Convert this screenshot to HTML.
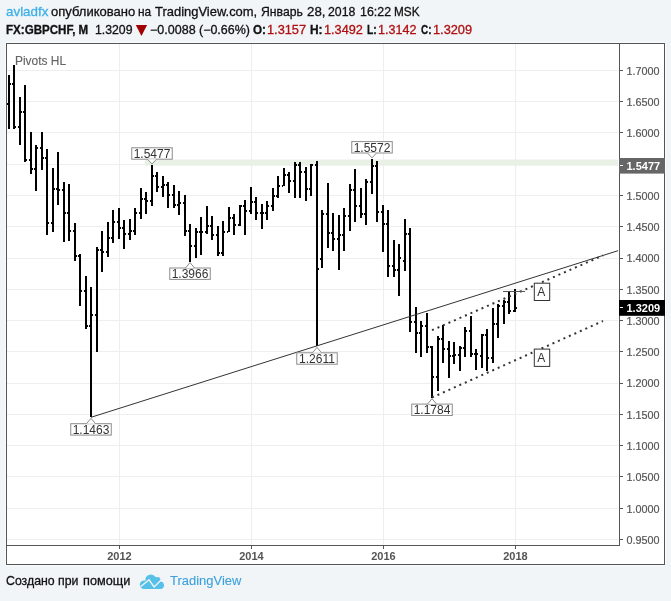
<!DOCTYPE html><html><head><meta charset="utf-8"><title>GBPCHF</title><style>
html,body{margin:0;padding:0}body{width:671px;height:601px;background:#f1f5f8;position:relative;overflow:hidden;font-family:"Liberation Sans",Arial,sans-serif;color:#111}
.t{position:absolute;white-space:nowrap;display:block;transform-origin:0 0;line-height:normal}.t{-webkit-text-stroke:0.3px currentColor}.g{color:#666;-webkit-text-stroke:0.15px currentColor}.l2{color:#3ba0dc;-webkit-text-stroke:0.1px currentColor}
.b{font-weight:bold}.r{color:#b01010}.l{color:#3db0e8}
</style></head><body>
<svg width="671" height="601" viewBox="0 0 671 601" style="position:absolute;left:0;top:0">
<rect x="5" y="42" width="661" height="524" fill="#fbfcfd"/>
<rect x="6" y="43" width="659" height="522" fill="#fff"/>
<g fill="#eeeeee" shape-rendering="crispEdges"><rect x="7" y="70" width="611" height="1"/><rect x="7" y="101" width="611" height="1"/><rect x="7" y="132" width="611" height="1"/><rect x="7" y="164" width="611" height="1"/><rect x="7" y="195" width="611" height="1"/><rect x="7" y="226" width="611" height="1"/><rect x="7" y="258" width="611" height="1"/><rect x="7" y="289" width="611" height="1"/><rect x="7" y="320" width="611" height="1"/><rect x="7" y="351" width="611" height="1"/><rect x="7" y="383" width="611" height="1"/><rect x="7" y="414" width="611" height="1"/><rect x="7" y="445" width="611" height="1"/><rect x="7" y="476" width="611" height="1"/><rect x="7" y="508" width="611" height="1"/><rect x="7" y="539" width="611" height="1"/><rect x="119" y="44" width="1" height="501"/><rect x="251" y="44" width="1" height="501"/><rect x="383" y="44" width="1" height="501"/><rect x="515" y="44" width="1" height="501"/></g>
<rect x="145" y="159.5" width="473" height="6.2" fill="#e9f0e6"/>
<g fill="#000"><rect x="8" y="75" width="2" height="54"/><rect x="7" y="103" width="1" height="2"/><rect x="10" y="83" width="1" height="2"/><rect x="13" y="65" width="2" height="64"/><rect x="12" y="83" width="1" height="2"/><rect x="15" y="126" width="1" height="2"/><rect x="19" y="97" width="2" height="48"/><rect x="18" y="126" width="1" height="2"/><rect x="21" y="111" width="1" height="2"/><rect x="24" y="85" width="2" height="77"/><rect x="23" y="111" width="1" height="2"/><rect x="26" y="159" width="1" height="2"/><rect x="30" y="132" width="2" height="42"/><rect x="29" y="159" width="1" height="2"/><rect x="32" y="168" width="1" height="2"/><rect x="35" y="145" width="2" height="46"/><rect x="34" y="168" width="1" height="2"/><rect x="37" y="147" width="1" height="2"/><rect x="41" y="132" width="2" height="38"/><rect x="40" y="147" width="1" height="2"/><rect x="43" y="157" width="1" height="2"/><rect x="46" y="149" width="2" height="86"/><rect x="45" y="157" width="1" height="2"/><rect x="48" y="222" width="1" height="2"/><rect x="52" y="168" width="2" height="64"/><rect x="51" y="222" width="1" height="2"/><rect x="54" y="188" width="1" height="2"/><rect x="57" y="152" width="2" height="53"/><rect x="56" y="188" width="1" height="2"/><rect x="59" y="189" width="1" height="2"/><rect x="63" y="182" width="2" height="60"/><rect x="62" y="189" width="1" height="2"/><rect x="65" y="212" width="1" height="2"/><rect x="68" y="184" width="2" height="57"/><rect x="67" y="212" width="1" height="2"/><rect x="70" y="230" width="1" height="2"/><rect x="74" y="223" width="2" height="38"/><rect x="73" y="230" width="1" height="2"/><rect x="76" y="255" width="1" height="2"/><rect x="79" y="254" width="2" height="52"/><rect x="78" y="255" width="1" height="2"/><rect x="81" y="290" width="1" height="2"/><rect x="85" y="276" width="2" height="53"/><rect x="84" y="290" width="1" height="2"/><rect x="87" y="325" width="1" height="2"/><rect x="90" y="287" width="2" height="130"/><rect x="89" y="325" width="1" height="2"/><rect x="92" y="314" width="1" height="2"/><rect x="96" y="247" width="2" height="105"/><rect x="95" y="314" width="1" height="2"/><rect x="98" y="249" width="1" height="2"/><rect x="101" y="231" width="2" height="41"/><rect x="100" y="249" width="1" height="2"/><rect x="103" y="251" width="1" height="2"/><rect x="107" y="222" width="2" height="35"/><rect x="106" y="251" width="1" height="2"/><rect x="109" y="237" width="1" height="2"/><rect x="112" y="210" width="2" height="33"/><rect x="111" y="237" width="1" height="2"/><rect x="114" y="221" width="1" height="2"/><rect x="118" y="208" width="2" height="31"/><rect x="117" y="221" width="1" height="2"/><rect x="120" y="227" width="1" height="2"/><rect x="123" y="220" width="2" height="29"/><rect x="122" y="227" width="1" height="2"/><rect x="125" y="233" width="1" height="2"/><rect x="129" y="219" width="2" height="21"/><rect x="128" y="233" width="1" height="2"/><rect x="131" y="230" width="1" height="2"/><rect x="134" y="208" width="2" height="27"/><rect x="133" y="230" width="1" height="2"/><rect x="136" y="212" width="1" height="2"/><rect x="140" y="188" width="2" height="31"/><rect x="139" y="212" width="1" height="2"/><rect x="142" y="198" width="1" height="2"/><rect x="145" y="192" width="2" height="22"/><rect x="144" y="198" width="1" height="2"/><rect x="147" y="200" width="1" height="2"/><rect x="151" y="165" width="2" height="41"/><rect x="150" y="200" width="1" height="2"/><rect x="153" y="175" width="1" height="2"/><rect x="156" y="172" width="2" height="20"/><rect x="155" y="175" width="1" height="2"/><rect x="158" y="186" width="1" height="2"/><rect x="162" y="176" width="2" height="21"/><rect x="161" y="186" width="1" height="2"/><rect x="164" y="184" width="1" height="2"/><rect x="167" y="182" width="2" height="26"/><rect x="166" y="184" width="1" height="2"/><rect x="169" y="194" width="1" height="2"/><rect x="173" y="185" width="2" height="23"/><rect x="172" y="194" width="1" height="2"/><rect x="175" y="204" width="1" height="2"/><rect x="178" y="191" width="2" height="24"/><rect x="177" y="204" width="1" height="2"/><rect x="180" y="202" width="1" height="2"/><rect x="184" y="195" width="2" height="41"/><rect x="183" y="202" width="1" height="2"/><rect x="186" y="230" width="1" height="2"/><rect x="189" y="224" width="2" height="38"/><rect x="188" y="230" width="1" height="2"/><rect x="191" y="245" width="1" height="2"/><rect x="195" y="228" width="2" height="30"/><rect x="194" y="245" width="1" height="2"/><rect x="197" y="231" width="1" height="2"/><rect x="200" y="217" width="2" height="38"/><rect x="199" y="231" width="1" height="2"/><rect x="202" y="231" width="1" height="2"/><rect x="206" y="206" width="2" height="28"/><rect x="205" y="231" width="1" height="2"/><rect x="208" y="225" width="1" height="2"/><rect x="211" y="216" width="2" height="24"/><rect x="210" y="225" width="1" height="2"/><rect x="213" y="234" width="1" height="2"/><rect x="217" y="226" width="2" height="30"/><rect x="216" y="234" width="1" height="2"/><rect x="219" y="252" width="1" height="2"/><rect x="222" y="221" width="2" height="35"/><rect x="221" y="252" width="1" height="2"/><rect x="224" y="231" width="1" height="2"/><rect x="228" y="207" width="2" height="25"/><rect x="227" y="231" width="1" height="2"/><rect x="230" y="217" width="1" height="2"/><rect x="233" y="214" width="2" height="21"/><rect x="232" y="217" width="1" height="2"/><rect x="235" y="224" width="1" height="2"/><rect x="239" y="205" width="2" height="21"/><rect x="238" y="224" width="1" height="2"/><rect x="241" y="205" width="1" height="2"/><rect x="244" y="200" width="2" height="35"/><rect x="243" y="205" width="1" height="2"/><rect x="246" y="210" width="1" height="2"/><rect x="250" y="187" width="2" height="27"/><rect x="249" y="210" width="1" height="2"/><rect x="252" y="201" width="1" height="2"/><rect x="255" y="197" width="2" height="23"/><rect x="254" y="201" width="1" height="2"/><rect x="257" y="212" width="1" height="2"/><rect x="261" y="204" width="2" height="25"/><rect x="260" y="212" width="1" height="2"/><rect x="263" y="212" width="1" height="2"/><rect x="266" y="201" width="2" height="19"/><rect x="265" y="212" width="1" height="2"/><rect x="268" y="205" width="1" height="2"/><rect x="272" y="188" width="2" height="23"/><rect x="271" y="205" width="1" height="2"/><rect x="274" y="195" width="1" height="2"/><rect x="277" y="176" width="2" height="22"/><rect x="276" y="195" width="1" height="2"/><rect x="279" y="185" width="1" height="2"/><rect x="283" y="168" width="2" height="18"/><rect x="282" y="185" width="1" height="2"/><rect x="285" y="174" width="1" height="2"/><rect x="288" y="172" width="2" height="21"/><rect x="287" y="174" width="1" height="2"/><rect x="290" y="180" width="1" height="2"/><rect x="294" y="162" width="2" height="36"/><rect x="293" y="180" width="1" height="2"/><rect x="296" y="164" width="1" height="2"/><rect x="299" y="162" width="2" height="36"/><rect x="298" y="164" width="1" height="2"/><rect x="301" y="171" width="1" height="2"/><rect x="305" y="167" width="2" height="34"/><rect x="304" y="171" width="1" height="2"/><rect x="307" y="188" width="1" height="2"/><rect x="310" y="164" width="2" height="32"/><rect x="309" y="188" width="1" height="2"/><rect x="312" y="164" width="1" height="2"/><rect x="316" y="161" width="2" height="185"/><rect x="315" y="164" width="1" height="2"/><rect x="318" y="268" width="1" height="2"/><rect x="321" y="210" width="2" height="58"/><rect x="320" y="258" width="1" height="2"/><rect x="323" y="213" width="1" height="2"/><rect x="327" y="183" width="2" height="65"/><rect x="326" y="213" width="1" height="2"/><rect x="329" y="232" width="1" height="2"/><rect x="332" y="213" width="2" height="38"/><rect x="331" y="232" width="1" height="2"/><rect x="334" y="238" width="1" height="2"/><rect x="338" y="215" width="2" height="55"/><rect x="337" y="238" width="1" height="2"/><rect x="340" y="234" width="1" height="2"/><rect x="343" y="208" width="2" height="43"/><rect x="342" y="234" width="1" height="2"/><rect x="345" y="215" width="1" height="2"/><rect x="349" y="184" width="2" height="47"/><rect x="348" y="215" width="1" height="2"/><rect x="351" y="189" width="1" height="2"/><rect x="354" y="169" width="2" height="53"/><rect x="353" y="189" width="1" height="2"/><rect x="356" y="205" width="1" height="2"/><rect x="360" y="188" width="2" height="30"/><rect x="359" y="205" width="1" height="2"/><rect x="362" y="213" width="1" height="2"/><rect x="365" y="179" width="2" height="46"/><rect x="364" y="213" width="1" height="2"/><rect x="367" y="181" width="1" height="2"/><rect x="371" y="159" width="2" height="35"/><rect x="370" y="181" width="1" height="2"/><rect x="373" y="165" width="1" height="2"/><rect x="376" y="161" width="2" height="61"/><rect x="375" y="165" width="1" height="2"/><rect x="378" y="211" width="1" height="2"/><rect x="382" y="205" width="2" height="47"/><rect x="381" y="211" width="1" height="2"/><rect x="384" y="223" width="1" height="2"/><rect x="387" y="210" width="2" height="67"/><rect x="386" y="223" width="1" height="2"/><rect x="389" y="265" width="1" height="2"/><rect x="393" y="240" width="2" height="37"/><rect x="392" y="265" width="1" height="2"/><rect x="395" y="269" width="1" height="2"/><rect x="398" y="244" width="2" height="52"/><rect x="397" y="269" width="1" height="2"/><rect x="400" y="257" width="1" height="2"/><rect x="404" y="219" width="2" height="52"/><rect x="403" y="260" width="1" height="2"/><rect x="406" y="233" width="1" height="2"/><rect x="409" y="228" width="2" height="104"/><rect x="408" y="233" width="1" height="2"/><rect x="411" y="321" width="1" height="2"/><rect x="415" y="307" width="2" height="46"/><rect x="414" y="321" width="1" height="2"/><rect x="417" y="332" width="1" height="2"/><rect x="420" y="321" width="2" height="36"/><rect x="419" y="332" width="1" height="2"/><rect x="422" y="325" width="1" height="2"/><rect x="426" y="313" width="2" height="40"/><rect x="425" y="325" width="1" height="2"/><rect x="428" y="346" width="1" height="2"/><rect x="431" y="346" width="2" height="52"/><rect x="430" y="346" width="1" height="2"/><rect x="433" y="376" width="1" height="2"/><rect x="437" y="336" width="2" height="55"/><rect x="436" y="376" width="1" height="2"/><rect x="439" y="338" width="1" height="2"/><rect x="442" y="325" width="2" height="38"/><rect x="441" y="338" width="1" height="2"/><rect x="444" y="348" width="1" height="2"/><rect x="448" y="341" width="2" height="37"/><rect x="447" y="348" width="1" height="2"/><rect x="450" y="355" width="1" height="2"/><rect x="453" y="342" width="2" height="22"/><rect x="452" y="355" width="1" height="2"/><rect x="455" y="354" width="1" height="2"/><rect x="459" y="346" width="2" height="25"/><rect x="458" y="354" width="1" height="2"/><rect x="461" y="347" width="1" height="2"/><rect x="464" y="327" width="2" height="30"/><rect x="463" y="347" width="1" height="2"/><rect x="466" y="330" width="1" height="2"/><rect x="470" y="316" width="2" height="41"/><rect x="469" y="330" width="1" height="2"/><rect x="472" y="353" width="1" height="2"/><rect x="475" y="349" width="2" height="21"/><rect x="474" y="353" width="1" height="2"/><rect x="477" y="353" width="1" height="2"/><rect x="481" y="334" width="2" height="34"/><rect x="480" y="355" width="1" height="2"/><rect x="483" y="334" width="1" height="2"/><rect x="486" y="329" width="2" height="42"/><rect x="485" y="334" width="1" height="2"/><rect x="488" y="357" width="1" height="2"/><rect x="492" y="308" width="2" height="55"/><rect x="491" y="357" width="1" height="2"/><rect x="494" y="323" width="1" height="2"/><rect x="497" y="304" width="2" height="34"/><rect x="496" y="323" width="1" height="2"/><rect x="499" y="305" width="1" height="2"/><rect x="503" y="300" width="2" height="24"/><rect x="502" y="305" width="1" height="2"/><rect x="505" y="301" width="1" height="2"/><rect x="508" y="291" width="2" height="23"/><rect x="507" y="301" width="1" height="2"/><rect x="510" y="310" width="1" height="2"/><rect x="514" y="289" width="2" height="23"/><rect x="513" y="310" width="1" height="2"/><rect x="516" y="307" width="1" height="2"/></g>
<line x1="91" y1="417.3" x2="618" y2="250.7" stroke="#333" stroke-width="1"/>
<line x1="432" y1="330.2" x2="603" y2="255.5" stroke="#333" stroke-width="2" stroke-dasharray="2 4"/>
<line x1="432" y1="397.5" x2="603" y2="321.0" stroke="#333" stroke-width="2" stroke-dasharray="2 4"/>
<rect x="503" y="291" width="22" height="1" fill="#555" shape-rendering="crispEdges"/>
<g font-family="'Liberation Sans', Arial, sans-serif">
<rect x="70.75" y="423.7" width="40.5" height="11.4" fill="#fff" stroke="#8c8c8c" stroke-width="1"/><polygon points="86.5,423.7 91,418.3 95.5,423.7" fill="#fff" stroke="none"/><polyline points="86.5,423.7 91,418.3 95.5,423.7" fill="none" stroke="#8c8c8c" stroke-width="1"/><text x="91" y="433.6" font-size="12" text-anchor="middle" fill="#333">1.1463</text>
<rect x="131.75" y="147.8" width="40.5" height="11.4" fill="#fff" stroke="#8c8c8c" stroke-width="1"/><polygon points="147.5,159.2 152,164.1 156.5,159.2" fill="#fff" stroke="none"/><polyline points="147.5,159.2 152,164.1 156.5,159.2" fill="none" stroke="#8c8c8c" stroke-width="1"/><text x="152" y="157.7" font-size="12" text-anchor="middle" fill="#333">1.5477</text>
<rect x="169.75" y="268.0" width="40.5" height="11.4" fill="#fff" stroke="#8c8c8c" stroke-width="1"/><polygon points="185.5,268.0 190,262.6 194.5,268.0" fill="#fff" stroke="none"/><polyline points="185.5,268.0 190,262.6 194.5,268.0" fill="none" stroke="#8c8c8c" stroke-width="1"/><text x="190" y="277.9" font-size="12" text-anchor="middle" fill="#333">1.3966</text>
<rect x="296.75" y="352.8" width="40.5" height="11.4" fill="#fff" stroke="#8c8c8c" stroke-width="1"/><polygon points="312.5,352.79999999999995 317,347.4 321.5,352.79999999999995" fill="#fff" stroke="none"/><polyline points="312.5,352.79999999999995 317,347.4 321.5,352.79999999999995" fill="none" stroke="#8c8c8c" stroke-width="1"/><text x="317" y="362.7" font-size="12" text-anchor="middle" fill="#333">1.2611</text>
<rect x="351.75" y="141.6" width="40.5" height="11.4" fill="#fff" stroke="#8c8c8c" stroke-width="1"/><polygon points="367.5,153.0 372,157.9 376.5,153.0" fill="#fff" stroke="none"/><polyline points="367.5,153.0 372,157.9 376.5,153.0" fill="none" stroke="#8c8c8c" stroke-width="1"/><text x="372" y="151.5" font-size="12" text-anchor="middle" fill="#333">1.5572</text>
<rect x="411.75" y="404.1" width="40.5" height="11.4" fill="#fff" stroke="#8c8c8c" stroke-width="1"/><polygon points="427.5,404.09999999999997 432,398.7 436.5,404.09999999999997" fill="#fff" stroke="none"/><polyline points="427.5,404.09999999999997 432,398.7 436.5,404.09999999999997" fill="none" stroke="#8c8c8c" stroke-width="1"/><text x="432" y="414.0" font-size="12" text-anchor="middle" fill="#333">1.1784</text>
<rect x="534.3" y="283.2" width="15.4" height="17.3" fill="#fff" stroke="#333" stroke-width="1"/>
<text x="541.2" y="296.4" font-size="12" text-anchor="middle" fill="#333">A</text>
<rect x="534.3" y="349.1" width="15.4" height="17.3" fill="#fff" stroke="#333" stroke-width="1"/>
<text x="541.2" y="362.3" font-size="12" text-anchor="middle" fill="#333">A</text>
<g fill="#555" shape-rendering="crispEdges">
<rect x="6" y="43" width="659" height="1"/><rect x="6" y="564" width="659" height="1"/>
<rect x="6" y="43" width="1" height="522"/><rect x="664" y="43" width="1" height="522"/>
<rect x="619" y="43" width="1" height="503"/><rect x="6" y="545" width="614" height="1"/>
<rect x="620" y="70" width="3" height="1"/>
<rect x="620" y="101" width="3" height="1"/>
<rect x="620" y="132" width="3" height="1"/>
<rect x="620" y="164" width="3" height="1"/>
<rect x="620" y="195" width="3" height="1"/>
<rect x="620" y="226" width="3" height="1"/>
<rect x="620" y="258" width="3" height="1"/>
<rect x="620" y="289" width="3" height="1"/>
<rect x="620" y="320" width="3" height="1"/>
<rect x="620" y="351" width="3" height="1"/>
<rect x="620" y="383" width="3" height="1"/>
<rect x="620" y="414" width="3" height="1"/>
<rect x="620" y="445" width="3" height="1"/>
<rect x="620" y="476" width="3" height="1"/>
<rect x="620" y="508" width="3" height="1"/>
<rect x="620" y="539" width="3" height="1"/>
<rect x="119" y="546" width="1" height="3"/>
<rect x="251" y="546" width="1" height="3"/>
<rect x="383" y="546" width="1" height="3"/>
<rect x="515" y="546" width="1" height="3"/>
</g>
<text x="626.5" y="74.7" font-size="10.8" fill="#555" stroke="#555" stroke-width="0.2">1.7000</text>
<text x="626.5" y="106.0" font-size="10.8" fill="#555" stroke="#555" stroke-width="0.2">1.6500</text>
<text x="626.5" y="137.2" font-size="10.8" fill="#555" stroke="#555" stroke-width="0.2">1.6000</text>
<text x="626.5" y="168.5" font-size="10.8" fill="#555" stroke="#555" stroke-width="0.2">1.5500</text>
<text x="626.5" y="199.8" font-size="10.8" fill="#555" stroke="#555" stroke-width="0.2">1.5000</text>
<text x="626.5" y="231.1" font-size="10.8" fill="#555" stroke="#555" stroke-width="0.2">1.4500</text>
<text x="626.5" y="262.3" font-size="10.8" fill="#555" stroke="#555" stroke-width="0.2">1.4000</text>
<text x="626.5" y="293.6" font-size="10.8" fill="#555" stroke="#555" stroke-width="0.2">1.3500</text>
<text x="626.5" y="324.9" font-size="10.8" fill="#555" stroke="#555" stroke-width="0.2">1.3000</text>
<text x="626.5" y="356.1" font-size="10.8" fill="#555" stroke="#555" stroke-width="0.2">1.2500</text>
<text x="626.5" y="387.4" font-size="10.8" fill="#555" stroke="#555" stroke-width="0.2">1.2000</text>
<text x="626.5" y="418.7" font-size="10.8" fill="#555" stroke="#555" stroke-width="0.2">1.1500</text>
<text x="626.5" y="449.9" font-size="10.8" fill="#555" stroke="#555" stroke-width="0.2">1.1000</text>
<text x="626.5" y="481.2" font-size="10.8" fill="#555" stroke="#555" stroke-width="0.2">1.0500</text>
<text x="626.5" y="512.5" font-size="10.8" fill="#555" stroke="#555" stroke-width="0.2">1.0000</text>
<text x="626.5" y="543.8" font-size="10.8" fill="#555" stroke="#555" stroke-width="0.2">0.9500</text>
<rect x="619" y="158" width="46" height="15.6" fill="#666"/>
<rect x="620" y="165" width="3" height="1" fill="#fff"/>
<text x="626.5" y="169.9" font-size="11" font-weight="bold" fill="#fff">1.5477</text>
<rect x="619" y="300" width="46" height="15.8" fill="#000"/>
<rect x="620" y="307" width="3" height="1" fill="#fff"/>
<text x="626.5" y="311.9" font-size="11" font-weight="bold" fill="#fff">1.3209</text>
<text x="119.5" y="560" font-size="11" font-weight="bold" text-anchor="middle" fill="#555">2012</text>
<text x="251.5" y="560" font-size="11" font-weight="bold" text-anchor="middle" fill="#555">2014</text>
<text x="383.5" y="560" font-size="11" font-weight="bold" text-anchor="middle" fill="#555">2016</text>
<text x="515.5" y="560" font-size="11" font-weight="bold" text-anchor="middle" fill="#555">2018</text>
</g>
<polygon points="135.8,25 147.1,25 141.45,36" fill="#a00000"/>
<g>
<g fill="#56c0e8"><circle cx="144" cy="584.8" r="4.2"/><circle cx="150.8" cy="579.9" r="5.5"/><circle cx="157.2" cy="580.3" r="3.4"/><circle cx="160.2" cy="585.2" r="3.8"/><rect x="144" y="581.5" width="16.2" height="7.5"/></g>
<polyline points="140.5,586.7 149,579.8 154.1,587 161.4,579.8" fill="none" stroke="#f1f5f8" stroke-width="1.3" stroke-linejoin="miter"/>
</g>
</svg>
<span class="t l" style="left:6.1px;top:4.1px;font-size:13px;transform:scaleX(1.029)">avladfx</span>
<span class="t " style="left:50.8px;top:4.1px;font-size:13px;transform:scaleX(1.002)">опубликовано</span>
<span class="t " style="left:138.1px;top:4.1px;font-size:13px;transform:scaleX(0.915)">на</span>
<span class="t " style="left:155.0px;top:4.1px;font-size:13px;transform:scaleX(0.996)">TradingView.com,</span>
<span class="t " style="left:260.8px;top:4.1px;font-size:13px;transform:scaleX(0.938)">Январь</span>
<span class="t " style="left:306.9px;top:4.1px;font-size:13px;transform:scaleX(1.023)">28,</span>
<span class="t " style="left:328.1px;top:4.1px;font-size:13px;transform:scaleX(0.947)">2018</span>
<span class="t " style="left:359.5px;top:4.1px;font-size:13px;transform:scaleX(0.956)">16:22</span>
<span class="t " style="left:394.1px;top:4.1px;font-size:13px;transform:scaleX(0.905)">MSK</span>
<span class="t b" style="left:6.1px;top:22.9px;font-size:12px;transform:scaleX(0.964)">FX:GBPCHF, M</span>
<span class="t " style="left:94.9px;top:22.9px;font-size:12px;transform:scaleX(1.022)">1.3209</span>
<span class="t " style="left:150.0px;top:22.9px;font-size:12px;transform:scaleX(1.043)">−0.0088</span>
<span class="t " style="left:199.2px;top:22.9px;font-size:12px;transform:scaleX(1.038)">(−0.66%)</span>
<span class="t b" style="left:252.8px;top:22.9px;font-size:12px;transform:scaleX(0.974)">O:</span>
<span class="t r" style="left:267.0px;top:22.9px;font-size:12px;transform:scaleX(1.065)">1.3157</span>
<span class="t b" style="left:310.3px;top:22.9px;font-size:12px;transform:scaleX(0.994)">H:</span>
<span class="t r" style="left:324.1px;top:22.9px;font-size:12px;transform:scaleX(1.060)">1.3492</span>
<span class="t b" style="left:367.0px;top:22.9px;font-size:12px;transform:scaleX(0.856)">L:</span>
<span class="t r" style="left:377.9px;top:22.9px;font-size:12px;transform:scaleX(1.046)">1.3142</span>
<span class="t b" style="left:420.8px;top:22.9px;font-size:12px;transform:scaleX(0.829)">C:</span>
<span class="t r" style="left:432.8px;top:22.9px;font-size:12px;transform:scaleX(1.065)">1.3209</span>
<span class="t g" style="left:15.0px;top:53.7px;font-size:12px;transform:scaleX(0.995)">Pivots HL</span>
<span class="t " style="left:6.0px;top:573.2px;font-size:13px;transform:scaleX(0.948)">Создано</span>
<span class="t " style="left:57.9px;top:573.2px;font-size:13px;transform:scaleX(0.947)">при</span>
<span class="t " style="left:82.9px;top:573.2px;font-size:13px;transform:scaleX(0.977)">помощи</span>
<span class="t l2" style="left:169.9px;top:573.2px;font-size:13px;transform:scaleX(0.997)">TradingView</span>
</body></html>
